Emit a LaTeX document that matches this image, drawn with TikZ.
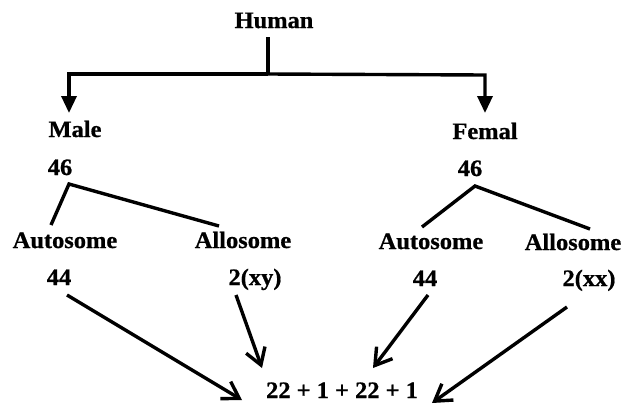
\documentclass[tikz,border=0pt]{standalone}
\usepackage{fontspec}
\setmainfont{Liberation Serif}[FakeStretch=1.04,FakeBold=0.8]
\usetikzlibrary{arrows.meta}
\begin{document}
\begin{tikzpicture}[x=1pt,y=-1pt,
  lbl/.style={anchor=base,inner sep=0pt,font=\bfseries\fontsize{23.5}{27}\selectfont},
  conn/.style={line width=3.4pt,black},
  downarrow/.style={conn,-{Triangle[length=17pt,width=15pt]}},
  barbarrow/.style={conn,-{Straight Barb[length=16pt,width=20pt]}}]
\useasboundingbox (0,0) rectangle (626,405);
% text nodes
\node[lbl] (human) at (274,28) {Human};
\node[lbl] (male) at (75,137) {Male};
\node[lbl] (m46) at (60,175) {46};
\node[lbl] (femal) at (485,139) {Femal};
\node[lbl] (f46) at (470,176) {46};
\node[lbl] (mauto) at (65,248) {Autosome};
\node[lbl] (mallo) at (243,248) {Allosome};
\node[lbl] (fauto) at (431,249) {Autosome};
\node[lbl] (fallo) at (573,250) {Allosome};
\node[lbl] (m44) at (59,285) {44};
\node[lbl] (mxy) at (255,285) {2(xy)};
\node[lbl] (f44) at (425,286) {44};
\node[lbl] (fxx) at (589,286) {2(xx)};
\node[lbl] (sum) at (342,398) {22 + 1 + 22 + 1};
% connector points
\coordinate (hb) at (268,37);
\coordinate (hj) at (268,74);
\coordinate (lc) at (69,74);
\coordinate (lt) at (69,113);
\coordinate (rc) at (485,75);
\coordinate (rt) at (485,113);
\coordinate (ma) at (69,184);
\coordinate (mal) at (51,225);
\coordinate (mar) at (219,226);
\coordinate (fa) at (475,186);
\coordinate (fal) at (422,227);
\coordinate (far) at (590,229);
\coordinate (a1s) at (67,295);
\coordinate (a1t) at (242,400);
\coordinate (a2s) at (236,295);
\coordinate (a2t) at (262,368);
\coordinate (a3s) at (428,295);
\coordinate (a3t) at (373,368);
\coordinate (a4s) at (567,307);
\coordinate (a4t) at (432,403);
% connectors
\draw[conn] (hb) -- (hj);
\draw[downarrow] (hj) -- (lc) -- (lt);
\draw[downarrow] (hj) -- (rc) -- (rt);
\draw[conn] (mal) -- (ma) -- (mar);
\draw[conn] (fal) -- (fa) -- (far);
\draw[barbarrow] (a1s) -- (a1t);
\draw[barbarrow] (a2s) -- (a2t);
\draw[barbarrow] (a3s) -- (a3t);
\draw[barbarrow] (a4s) -- (a4t);
\end{tikzpicture}
\end{document}
